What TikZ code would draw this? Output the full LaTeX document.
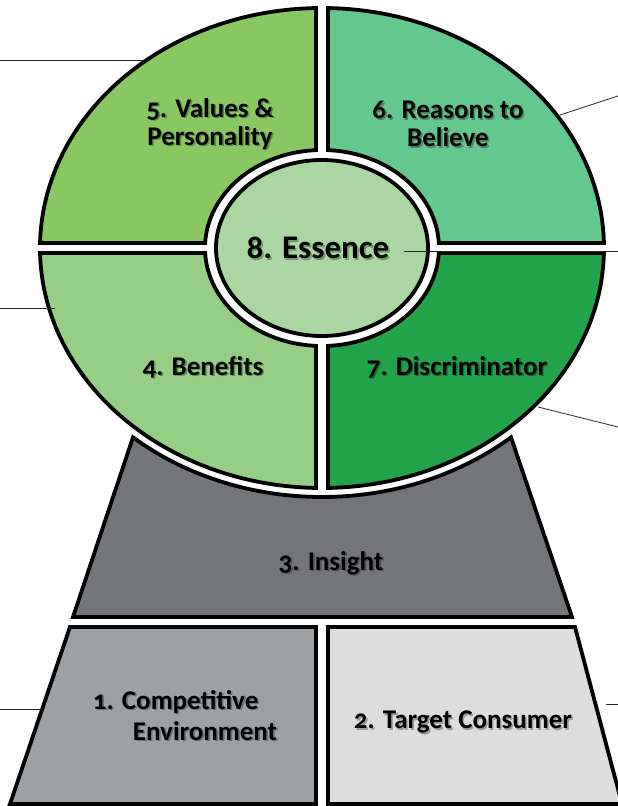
\documentclass[tikz,border=0pt]{standalone}
\usepackage{fontspec}
\setmainfont{Carlito}[Numbers=OldStyle]
\usepackage{tikz}

\definecolor{valcol}{HTML}{89C763}
\definecolor{rtbcol}{HTML}{63C78E}
\definecolor{bencol}{HTML}{96CE86}
\definecolor{discol}{HTML}{22A349}
\definecolor{esscol}{HTML}{AAD7A1}
\definecolor{inscol}{HTML}{737578}
\definecolor{comcol}{HTML}{9EA1A4}
\definecolor{tgtcol}{HTML}{DCDDDC}

\tikzset{
  segment/.style={draw=black, line width=3.8pt},
  leader/.style={draw=black!85, line width=0.8pt},
  lbl/.style={font=\bfseries\fontsize{27}{28}\selectfont, align=center, inner sep=0pt},
  lblshadow/.style={lbl, text=black, opacity=0.3, xshift=1.6pt, yshift=-1.6pt}
}

% label with a soft drop shadow: name, position, text
\newcommand\shlabel[3]{%
  \node[lblshadow] (#1-s) at (#2) {#3};
  \node[lbl] (#1) at (#2) {#3};}

\begin{document}
\begin{tikzpicture}[x=1pt, y=1pt]
    \path[use as bounding box] (-322,-558) rectangle (296,248);
    \clip (-322,-558) rectangle (296,248);

    % four quarters of the ring, mirrored into place
    \foreach \sx/\sy/\col in {-1/1/valcol, 1/1/rtbcol, -1/-1/bencol, 1/-1/discol}
      \draw[segment, fill=\col, xscale=\sx, yscale=\sy]
        (1.19:282 and 240) arc[start angle=1.19, end angle=88.78, x radius=282, y radius=240]
        -- (87.06:117 and 98) arc[start angle=87.06, end angle=2.92, x radius=117, y radius=98]
        -- cycle;

    % centre
    \draw[segment, fill=esscol] (0,0) ellipse [x radius=106, y radius=88];

    % base blocks
    \draw[segment, fill=inscol] (-249,-369)
      -- (229.5:291 and 249) arc[start angle=229.5, end angle=310.5, x radius=291, y radius=249]
      -- (250,-369) -- cycle;
    \draw[segment, fill=comcol] (-252,-379) -- (-6,-379) -- (-6,-556) -- (-312,-556) -- cycle;
    \draw[segment, fill=tgtcol] (6,-379) -- (253,-379) -- (300,-556) -- (6,-556) -- cycle;

    % leader lines
    \coordinate (val-in) at (-179,188);   \coordinate (val-out) at (-322,188);
    \coordinate (rtb-in) at (238,133);    \coordinate (rtb-out) at (296,152);
    \coordinate (ess-in) at (82,-3);      \coordinate (ess-out) at (296,-3);
    \coordinate (ben-in) at (-267,-60);   \coordinate (ben-out) at (-322,-60);
    \coordinate (dis-in) at (216,-159);   \coordinate (dis-out) at (296,-179);
    \coordinate (com-in) at (-280,-461);  \coordinate (com-out) at (-322,-461);
    \coordinate (tgt-in) at (284,-456);   \coordinate (tgt-out) at (296,-456);
    \foreach \k in {val, rtb, ess, ben, dis, com, tgt}
      \draw[leader] (\k-in) -- (\k-out);

    % labels
    \shlabel{values}{-112,124}{5. Values \&\\Personality}
    \shlabel{reasons}{126,124}{6. Reasons to\\Believe}
    \shlabel{benefits}{-119,-119}{4. Benefits}
    \shlabel{discrim}{135,-119}{7. Discriminator}
    \shlabel{insight}{9,-315}{3. Insight}
    \shlabel{compet}{-137,-471}{\begin{tabular}{@{}l@{}}1. Competitive\\[3pt]\hspace*{40pt}Environment\end{tabular}}
    \shlabel{target}{141,-474}{2. Target Consumer}
    \node[lblshadow, font=\bfseries\fontsize{33}{36}\selectfont] (essence-s) at (-4,0) {8. Essence};
    \node[lbl, font=\bfseries\fontsize{33}{36}\selectfont] (essence) at (-4,0) {8. Essence};
\end{tikzpicture}
\end{document}
